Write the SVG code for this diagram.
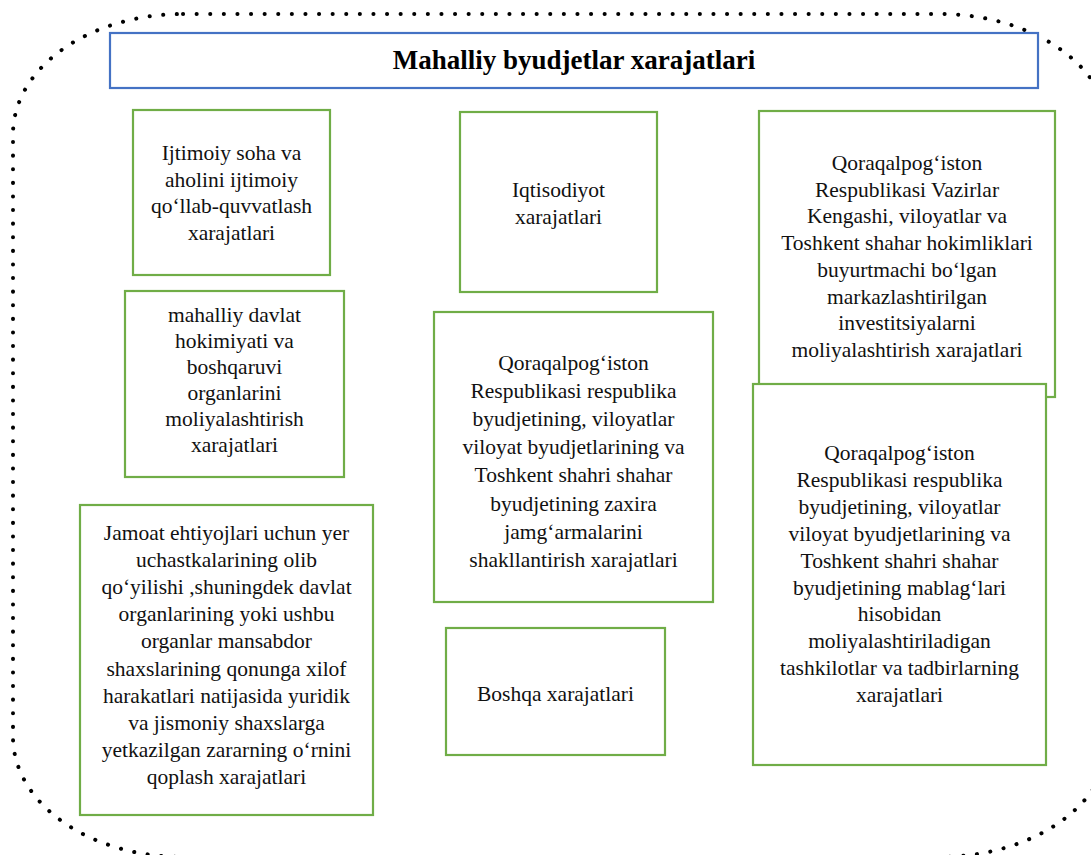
<svg xmlns="http://www.w3.org/2000/svg" width="1091" height="855" viewBox="0 0 1091 855">
<style>
.box{fill:#fff;stroke:#70AD47;stroke-width:2.2}
.t{font-family:"Liberation Serif","Times New Roman",serif;font-size:21.5px;fill:#111;text-anchor:middle}
.title{font-family:"Liberation Serif","Times New Roman",serif;font-size:27px;font-weight:bold;fill:#000;text-anchor:middle}
</style>
<rect width="1091" height="855" fill="#fff"/>
<g id="frame">
<rect x="13" y="14" width="1097" height="843" rx="170" ry="120" fill="none" stroke="#000" stroke-width="4" stroke-linecap="round" stroke-dasharray="0.1 13.5"/>
</g>
<g id="title">
<rect x="110" y="33" width="928" height="55" fill="#fff" stroke="#4472C4" stroke-width="2.2"/>
<text class="title" x="574" y="69">Mahalliy byudjetlar xarajatlari</text>
</g>
<g id="connectors"></g>
<g id="n1">
<rect class="box" x="133" y="110" width="197" height="165"/>
<text class="t" x="231.5" y="160"><tspan x="231.5">Ijtimoiy soha va</tspan><tspan x="231.5" dy="26.7">aholini ijtimoiy</tspan><tspan x="231.5" dy="26.7">qo‘llab-quvvatlash</tspan><tspan x="231.5" dy="26.7">xarajatlari</tspan></text>
</g>
<g id="n2">
<rect class="box" x="125" y="291" width="219" height="186"/>
<text class="t" x="234.5" y="322"><tspan x="234.5">mahalliy davlat</tspan><tspan x="234.5" dy="26">hokimiyati va</tspan><tspan x="234.5" dy="26">boshqaruvi</tspan><tspan x="234.5" dy="26">organlarini</tspan><tspan x="234.5" dy="26">moliyalashtirish</tspan><tspan x="234.5" dy="26">xarajatlari</tspan></text>
</g>
<g id="n3">
<rect class="box" x="80" y="505" width="293" height="310"/>
<text class="t" x="226.5" y="540"><tspan x="226.5">Jamoat ehtiyojlari uchun yer</tspan><tspan x="226.5" dy="27.1">uchastkalarining olib</tspan><tspan x="226.5" dy="27.1">qo‘yilishi ,shuningdek davlat</tspan><tspan x="226.5" dy="27.1">organlarining yoki ushbu</tspan><tspan x="226.5" dy="27.1">organlar mansabdor</tspan><tspan x="226.5" dy="27.1">shaxslarining qonunga xilof</tspan><tspan x="226.5" dy="27.1">harakatlari natijasida yuridik</tspan><tspan x="226.5" dy="27.1">va jismoniy shaxslarga</tspan><tspan x="226.5" dy="27.1">yetkazilgan zararning o‘rnini</tspan><tspan x="226.5" dy="27.1">qoplash xarajatlari</tspan></text>
</g>
<g id="n4">
<rect class="box" x="460" y="112" width="197" height="180"/>
<text class="t" x="558.5" y="197"><tspan x="558.5">Iqtisodiyot</tspan><tspan x="558.5" dy="27">xarajatlari</tspan></text>
</g>
<g id="n5">
<rect class="box" x="434" y="312" width="279" height="290"/>
<text class="t" x="573.5" y="370"><tspan x="573.5">Qoraqalpog‘iston</tspan><tspan x="573.5" dy="28.1">Respublikasi respublika</tspan><tspan x="573.5" dy="28.1">byudjetining, viloyatlar</tspan><tspan x="573.5" dy="28.1">viloyat byudjetlarining va</tspan><tspan x="573.5" dy="28.1">Toshkent shahri shahar</tspan><tspan x="573.5" dy="28.1">byudjetining zaxira</tspan><tspan x="573.5" dy="28.1">jamg‘armalarini</tspan><tspan x="573.5" dy="28.1">shakllantirish xarajatlari</tspan></text>
</g>
<g id="n6">
<rect class="box" x="446" y="628" width="219" height="127"/>
<text class="t" x="555.5" y="701">Boshqa xarajatlari</text>
</g>
<g id="n7">
<rect class="box" x="759" y="111" width="296" height="286"/>
<text class="t" x="907" y="170"><tspan x="907">Qoraqalpog‘iston</tspan><tspan x="907" dy="26.7">Respublikasi Vazirlar</tspan><tspan x="907" dy="26.7">Kengashi, viloyatlar va</tspan><tspan x="907" dy="26.7">Toshkent shahar hokimliklari</tspan><tspan x="907" dy="26.7">buyurtmachi bo‘lgan</tspan><tspan x="907" dy="26.7">markazlashtirilgan</tspan><tspan x="907" dy="26.7">investitsiyalarni</tspan><tspan x="907" dy="26.7">moliyalashtirish xarajatlari</tspan></text>
</g>
<g id="n8">
<rect class="box" x="753" y="384" width="293" height="381"/>
<text class="t" x="899.5" y="460"><tspan x="899.5">Qoraqalpog‘iston</tspan><tspan x="899.5" dy="26.9">Respublikasi respublika</tspan><tspan x="899.5" dy="26.9">byudjetining, viloyatlar</tspan><tspan x="899.5" dy="26.9">viloyat byudjetlarining va</tspan><tspan x="899.5" dy="26.9">Toshkent shahri shahar</tspan><tspan x="899.5" dy="26.9">byudjetining mablag‘lari</tspan><tspan x="899.5" dy="26.9">hisobidan</tspan><tspan x="899.5" dy="26.9">moliyalashtiriladigan</tspan><tspan x="899.5" dy="26.9">tashkilotlar va tadbirlarning</tspan><tspan x="899.5" dy="26.9">xarajatlari</tspan></text>
</g>
</svg>
